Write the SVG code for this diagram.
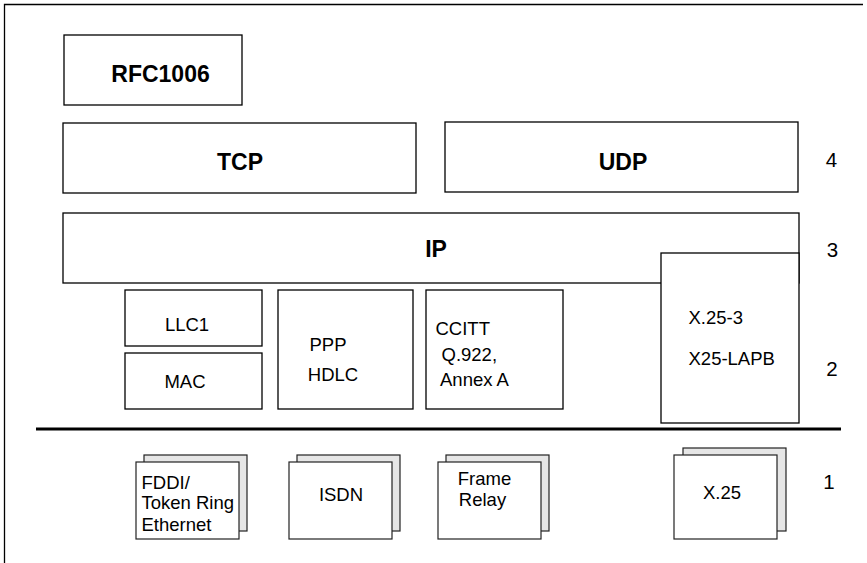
<svg xmlns="http://www.w3.org/2000/svg" width="867" height="563" viewBox="0 0 867 563">
  <style>
    .box { fill: #ffffff; stroke: #000000; stroke-width: 1.3; }
    .back { fill: #e6e6e6; stroke: #222222; stroke-width: 1.2; }
    .front { fill: #ffffff; stroke: #222222; stroke-width: 1.2; }
    .frame { fill: none; stroke: #000000; stroke-width: 1.3; }
    text { font-family: "Liberation Sans", Arial, sans-serif; fill: #000000; }
    .bold { font-size: 23px; font-weight: bold; text-anchor: middle; }
    .reg { font-size: 18.5px; }
    .mid { text-anchor: middle; }
    .num { font-size: 20.5px; text-anchor: middle; }
  </style>

  <rect width="867" height="563" fill="#ffffff"/>

  <!-- outer frame: top and left edges only -->
  <path class="frame" d="M4.5,563 V4.5 H863"/>

  <!-- layer 4 and above -->
  <g id="rfc1006">
    <rect class="box" x="64" y="35" width="178" height="70"/>
    <text class="bold" x="160.5" y="82">RFC1006</text>
  </g>
  <g id="tcp">
    <rect class="box" x="63" y="123" width="353" height="70"/>
    <text class="bold" x="240" y="169.5">TCP</text>
  </g>
  <g id="udp">
    <rect class="box" x="445" y="122" width="353" height="70"/>
    <text class="bold" x="623" y="169.5">UDP</text>
  </g>

  <!-- layer 3 -->
  <g id="ip">
    <rect class="box" x="63" y="213" width="736" height="70"/>
    <text class="bold" x="436" y="257">IP</text>
  </g>
  <g id="x25-3">
    <rect class="box" x="661" y="253" width="138" height="170"/>
    <text class="reg" x="688.5" y="323.5">X.25-3</text>
    <text class="reg" x="688.5" y="365">X25-LAPB</text>
  </g>

  <!-- layer 2 -->
  <g id="llc1">
    <rect class="box" x="125" y="290" width="137" height="56"/>
    <text class="reg mid" x="187" y="331">LLC1</text>
  </g>
  <g id="mac">
    <rect class="box" x="125" y="353" width="137" height="56"/>
    <text class="reg mid" x="185" y="387.5">MAC</text>
  </g>
  <g id="ppp-hdlc">
    <rect class="box" x="278" y="290" width="135" height="119"/>
    <text class="reg mid" x="328" y="351">PPP</text>
    <text class="reg mid" x="333" y="381">HDLC</text>
  </g>
  <g id="ccitt">
    <rect class="box" x="426" y="290" width="137" height="119"/>
    <text class="reg" x="435.5" y="335">CCITT</text>
    <text class="reg" x="441.5" y="360.5">Q.922,</text>
    <text class="reg" x="440" y="385.5">Annex A</text>
  </g>

  <!-- separator between layers 2 and 1 -->
  <g id="connectors">
    <line x1="36" y1="429" x2="841" y2="429" stroke="#000000" stroke-width="3.2"/>
  </g>

  <!-- layer 1: stacked media cards -->
  <g id="fddi">
    <rect class="back" x="144" y="455" width="103" height="76"/>
    <rect class="front" x="136" y="462" width="103" height="77"/>
    <text class="reg" x="141.5" y="488.5">FDDI/</text>
    <text class="reg" x="141.5" y="509">Token Ring</text>
    <text class="reg" x="141.5" y="530.5">Ethernet</text>
  </g>
  <g id="isdn">
    <rect class="back" x="297" y="455" width="103" height="76"/>
    <rect class="front" x="289" y="462" width="103" height="77"/>
    <text class="reg mid" x="341" y="501">ISDN</text>
  </g>
  <g id="frame-relay">
    <rect class="back" x="446" y="455" width="103" height="76"/>
    <rect class="front" x="438" y="462" width="103" height="77"/>
    <text class="reg mid" x="484.5" y="484.5">Frame</text>
    <text class="reg mid" x="482.5" y="505.5">Relay</text>
  </g>
  <g id="x25">
    <rect class="back" x="683" y="448" width="103" height="83"/>
    <rect class="front" x="674" y="455" width="103" height="84"/>
    <text class="reg mid" x="722" y="498.5">X.25</text>
  </g>

  <!-- layer numbers -->
  <g id="layer-numbers">
    <text class="num" x="831.5" y="167">4</text>
    <text class="num" x="832.5" y="257">3</text>
    <text class="num" x="832" y="376">2</text>
    <text class="num" x="829" y="488.5">1</text>
  </g>
</svg>
